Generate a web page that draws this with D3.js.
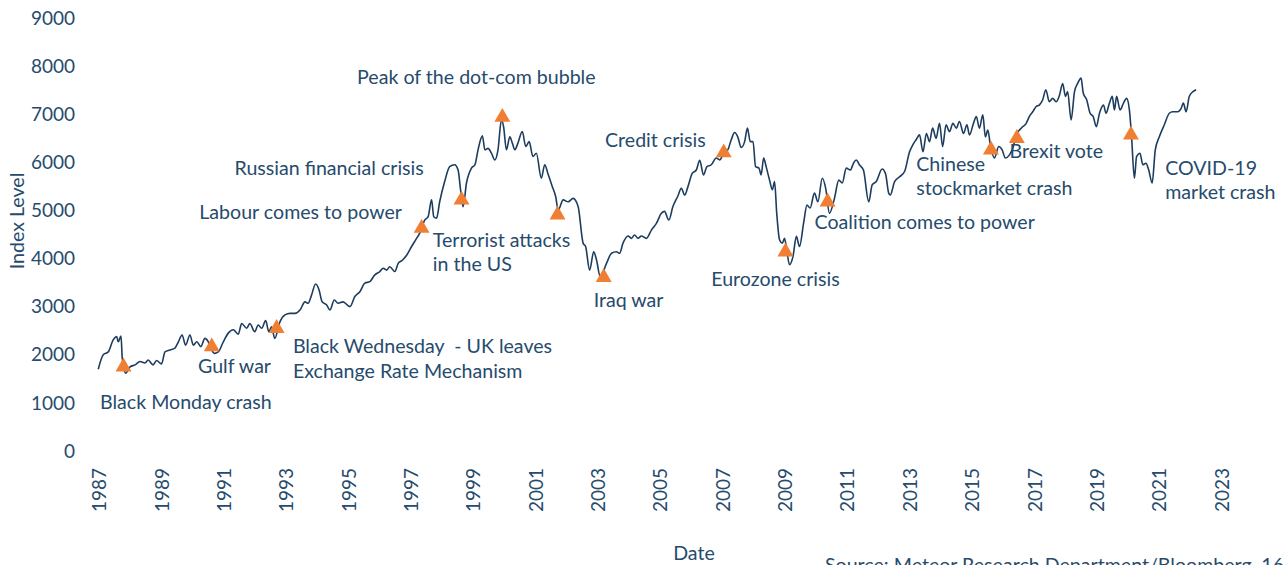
<!DOCTYPE html>
<html><head><meta charset="utf-8">
<script src="https://cdn.jsdelivr.net/npm/d3@7"></script>
<style>
body{margin:0;background:#fff;overflow:hidden}
text{font-family:Lato,"Noto Sans",sans-serif;fill:#264b6d;white-space:pre}
</style>
</head><body>
<svg id="c" width="1286" height="565"></svg>
<script>
// ---- data (decimal year, index level) ----
const dates = [1986.96,1987.12,1987.28,1987.44,1987.55,1987.60,1987.69,1987.73,1987.84,1987.98,
1988.14,1988.30,1988.46,1988.56,1988.72,1988.83,1988.99,1989.10,1989.26,1989.42,1989.53,1989.65,1989.76,1989.90,
1990.01,1990.12,1990.25,1990.38,1990.49,1990.60,1990.68,1990.81,1990.97,1991.13,1991.29,1991.45,1991.56,1991.72,1991.82,1991.98,
1992.09,1992.20,1992.33,1992.43,1992.52,1992.62,1992.79,1992.95,1993.11,1993.27,1993.43,1993.59,1993.69,1993.80,1993.93,
1994.04,1994.14,1994.28,1994.39,1994.53,1994.65,1994.81,1995.03,1995.19,1995.35,1995.51,1995.67,1995.83,1995.99,
1996.10,1996.21,1996.31,1996.47,1996.58,1996.72,1996.85,1997.01,1997.14,1997.27,1997.43,1997.54,1997.65,1997.72,1997.81,1997.91,
1998.07,1998.23,1998.39,1998.50,1998.58,1998.66,1998.77,1998.93,1999.04,1999.14,1999.28,1999.36,1999.46,1999.57,1999.68,1999.78,1999.89,1999.96,
2000.05,2000.16,2000.24,2000.32,2000.42,2000.56,2000.67,2000.78,2000.90,2001.01,2001.17,2001.28,2001.38,2001.52,2001.63,2001.71,2001.87,
2002.03,2002.19,2002.35,2002.51,2002.59,2002.72,2002.85,2002.94,2003.06,2003.26,2003.42,2003.58,2003.68,2003.79,2003.95,
2004.06,2004.16,2004.27,2004.38,2004.54,2004.70,2004.86,2005.02,2005.12,2005.26,2005.39,2005.55,2005.66,2005.77,2005.87,
2006.01,2006.14,2006.25,2006.37,2006.48,2006.62,2006.78,2006.89,2007.02,2007.15,2007.26,2007.37,2007.47,2007.58,2007.69,2007.78,2007.87,2007.96,
2008.04,2008.15,2008.22,2008.30,2008.38,2008.49,2008.58,2008.65,2008.72,2008.81,2008.90,2008.97,2009.04,2009.13,2009.24,2009.35,2009.45,2009.58,2009.69,2009.79,2009.93,
2010.04,2010.18,2010.29,2010.41,2010.57,2010.71,2010.82,2010.95,2011.08,2011.18,2011.27,2011.37,2011.50,2011.67,2011.78,2011.91,
2012.10,2012.21,2012.31,2012.36,2012.50,2012.66,2012.82,2012.98,2013.08,2013.19,2013.30,2013.41,2013.52,2013.62,2013.72,2013.83,2013.94,
2014.04,2014.15,2014.26,2014.37,2014.48,2014.58,2014.71,2014.82,2014.90,2015.03,2015.12,2015.22,2015.33,2015.41,2015.49,2015.57,2015.70,2015.84,2015.95,
2016.05,2016.18,2016.29,2016.40,2016.56,2016.72,2016.82,2016.93,2017.04,2017.14,2017.25,2017.35,2017.46,2017.57,2017.68,2017.79,2017.89,2017.98,
2018.05,2018.16,2018.27,2018.37,2018.48,2018.55,2018.66,2018.77,2018.87,2018.97,2019.07,2019.20,2019.28,2019.39,2019.48,2019.55,2019.62,2019.73,2019.84,2019.94,
2020.03,2020.10,2020.19,2020.26,2020.37,2020.46,2020.56,2020.65,2020.76,2020.86,2020.99,2021.15,2021.31,2021.42,2021.58,2021.69,2021.76,2021.85,2021.95,2022.07,2022.17];
const values = [1700,2000,2060,2310,2380,2270,2390,1930,1620,1750,
1790,1860,1830,1890,1790,1880,1810,2060,2100,2140,2270,2410,2200,2410,
2200,2270,2170,2340,2270,2100,2030,2060,2270,2450,2520,2430,2650,2550,2650,2480,
2620,2550,2710,2480,2580,2340,2690,2830,2860,2860,2930,3100,3070,3240,3470,
3350,3100,3040,2930,3140,3070,3100,3000,3210,3310,3490,3520,3660,3730,
3800,3760,3830,3730,3900,3970,4070,4250,4390,4530,4800,4870,5220,4870,4840,5180,
5600,5910,5950,5840,5430,5080,5570,5880,5950,6260,6550,6260,6290,6190,6050,6260,6880,6740,
6260,6530,6400,6260,6400,6640,6330,6430,6120,6190,5670,5950,5770,5500,5290,5010,5220,
5180,5250,5080,4320,4250,3760,4140,3970,3620,3900,4110,4140,4110,4320,4470,
4420,4490,4420,4470,4420,4590,4730,4940,4980,4800,5080,5300,5460,5320,5490,
5770,5840,6040,5740,5910,5950,6090,6050,6200,6260,6470,6620,6530,6310,6430,6710,6430,6430,
5910,5880,5740,6090,5910,5630,5430,5600,4940,4390,4320,4420,4180,3870,4040,4460,4250,4730,5110,5050,5360,
5180,5670,5460,4940,5250,5630,5570,5880,5840,5980,6050,5950,5840,5180,5530,5600,
5860,5760,5360,5320,5600,5700,5810,6220,6360,6470,6570,6220,6600,6430,6710,6500,6810,
6330,6780,6640,6810,6710,6850,6600,6780,6570,6810,6950,6710,6990,6530,6670,6360,6090,6330,6260,
6090,6150,6290,6570,6710,6810,6950,7050,7160,7190,7300,7510,7260,7330,7260,7400,7640,7370,
7470,6880,7470,7640,7750,7440,7300,7020,6950,6740,7020,7190,7020,7230,7370,7090,7370,7090,7230,7330,
7090,6530,5670,6120,6190,5950,5980,5840,5570,6260,6530,6780,7020,7050,7050,7120,7230,7050,7370,7470,7510];

const yTicks = [0,1000,2000,3000,4000,5000,6000,7000,8000,9000];
const xTicks = [1987,1989,1991,1993,1995,1997,1999,2001,2003,2005,2007,2009,2011,2013,2015,2017,2019,2021,2023];

const eventNames = [["Black Monday crash"],["Gulf war"],["Black Wednesday  - UK leaves","Exchange Rate Mechanism"],
["Labour comes to power"],["Russian financial crisis"],["Peak of the dot-com bubble"],["Terrorist attacks","in the US"],
["Iraq war"],["Credit crisis"],["Eurozone crisis"],["Coalition comes to power"],["Chinese","stockmarket crash"],
["Brexit vote"],["COVID-19","market crash"]];
const eventDates = [1987.77,1990.60,1992.68,1997.33,1998.61,1999.92,2001.69,2003.17,2007.02,2009.00,2010.35,2015.59,2016.42,2020.08];
const eventValues = [1750,2170,2550,4630,5220,6940,4910,3610,6200,4140,5180,6260,6500,6570];

const yTitle = "Index Level", xTitle = "Date";
const sourceNote = "Source: Meteor Research Department/Bloomberg, 16 February 2022";

// ---- layout (label offsets from marker) ----
const labelLayout = [
 {dx:-23.5,dy:42,a:"start"},{dx:-13.7,dy:26,a:"start"},{dx:16.3,dy:24.7,a:"start"},
 {dx:-19.7,dy:-9,a:"end"},{dx:-37.7,dy:-25,a:"end"},{dx:-26,dy:-33,a:"middle"},
 {dx:-124.7,dy:32,a:"start"},{dx:-10,dy:30,a:"start"},{dx:-18,dy:-6,a:"end"},
 {dx:-10,dy:34,a:"middle"},{dx:-13,dy:27,a:"start"},{dx:-74.7,dy:21,a:"start"},
 {dx:-7.3,dy:20,a:"start"},{dx:34.3,dy:40,a:"start"}];

const svg = d3.select("#c");
const FS = 19, LFS = 19.6;
const x = d3.scaleLinear().domain([1987,2023]).range([99.5,1222]);
const y = d3.scaleLinear().domain([0,9000]).range([451,18]);

// y tick labels
svg.append("g").selectAll("text").data(yTicks).join("text")
  .attr("x",75).attr("y",d=>y(d)).attr("dy","0.35em")
  .attr("text-anchor","end").attr("font-size",FS).text(d=>d);

// x tick labels (rotated)
svg.append("g").selectAll("text").data(xTicks).join("text")
  .attr("transform",d=>`translate(${x(d)},468) rotate(-90)`)
  .attr("dy","0.35em").attr("text-anchor","end").attr("font-size",FS)
  .text(d3.format("d"));

// axis titles
svg.append("text").attr("transform","translate(17,221) rotate(-90)")
  .attr("dy","0.35em").attr("text-anchor","middle").attr("font-size",LFS).text(yTitle);
svg.append("text").attr("x",694).attr("y",553).attr("dy","0.35em")
  .attr("text-anchor","middle").attr("font-size",LFS).text(xTitle);
svg.append("text").attr("x",825).attr("y",572).attr("font-size",LFS).text(sourceNote);

// line
const pts = dates.map((d,i)=>[d,values[i]]);
svg.append("path").datum(pts)
  .attr("fill","none").attr("stroke","#1d3d5e").attr("stroke-width",1.6)
  .attr("stroke-linejoin","round")
  .attr("d",d3.line().x(d=>x(d[0])).y(d=>y(d[1])).curve(d3.curveMonotoneX));

// event markers
const ev = eventDates.map((d,i)=>({t:d,v:eventValues[i],name:eventNames[i],L:labelLayout[i]}));
svg.append("g").selectAll("path").data(ev).join("path")
  .attr("transform",d=>`translate(${x(d.t)},${y(d.v)})`)
  .attr("d",d3.symbol(d3.symbolTriangle,110)())
  .attr("fill","#f07f33");

// event labels
const lab = svg.append("g").selectAll("text").data(ev).join("text")
  .attr("font-size",LFS)
  .attr("text-anchor",d=>d.L.a)
  .attr("x",d=>x(d.t)+d.L.dx).attr("y",d=>y(d.v)+d.L.dy);
lab.selectAll("tspan").data(d=>d.name.map((s,j)=>({s,j,d}))).join("tspan")
  .attr("x",o=>x(o.d.t)+o.d.L.dx).attr("dy",o=>o.j?24.5:0).text(o=>o.s);
</script>
</body></html>
